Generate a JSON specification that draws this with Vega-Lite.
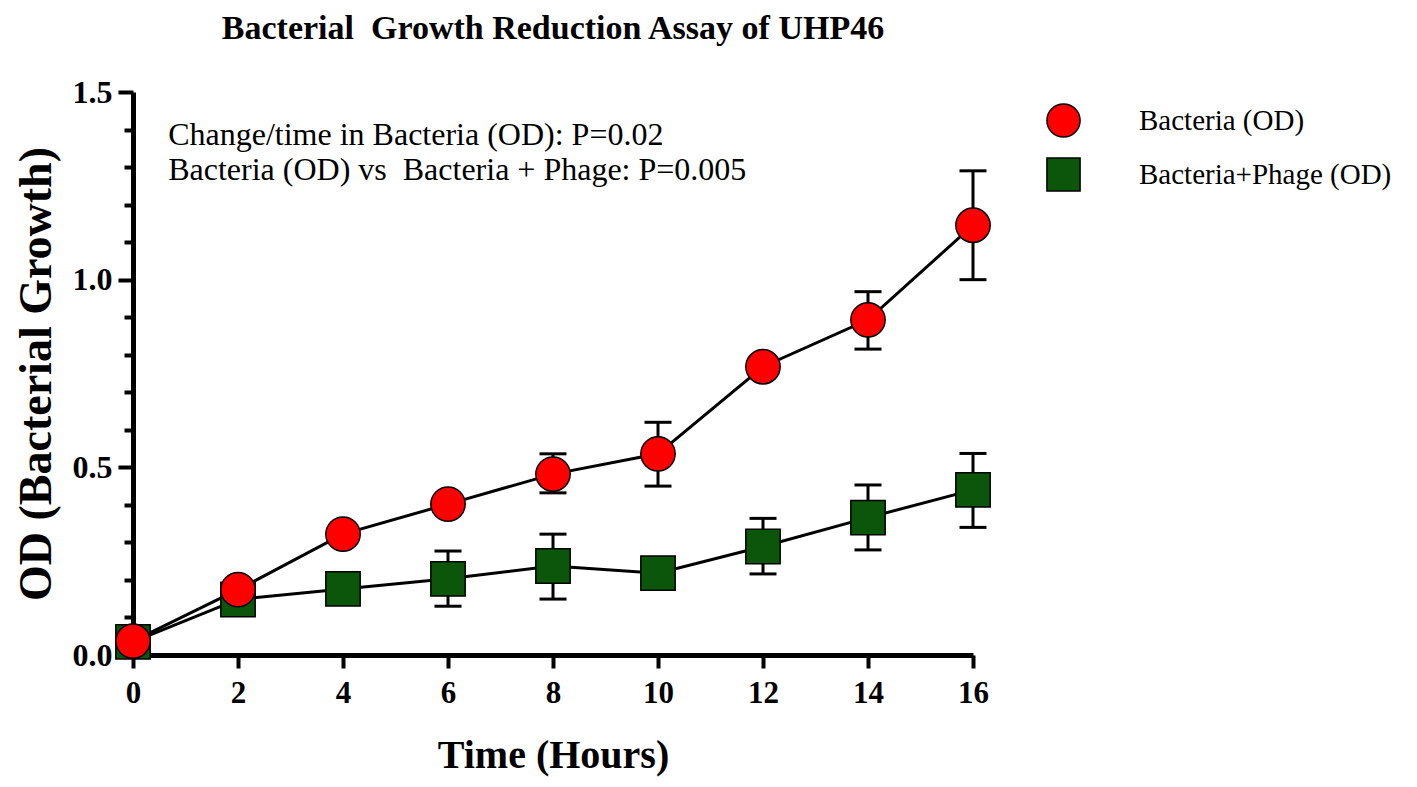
{
  "$schema": "https://vega.github.io/schema/vega-lite/v6.json",
  "width": 840,
  "height": 563,
  "autosize": "none",
  "padding": {"left": 133, "top": 92, "right": 444, "bottom": 132},
  "background": "white",
  "config": {
    "font": "Liberation Serif",
    "view": {"stroke": null}
  },
  "title": {
    "text": "Bacterial\u00a0 Growth Reduction Assay of UHP46",
    "font": "Liberation Serif",
    "fontSize": 34,
    "fontWeight": "bold",
    "anchor": "middle",
    "offset": 30
  },
  "data": {
    "values": [
      {"series": "Bacteria+Phage (OD)", "time": 0, "od": 0.035, "lo": null, "hi": null},
      {"series": "Bacteria+Phage (OD)", "time": 2, "od": 0.148, "lo": 0.11, "hi": 0.186},
      {"series": "Bacteria+Phage (OD)", "time": 4, "od": 0.176, "lo": null, "hi": null},
      {"series": "Bacteria+Phage (OD)", "time": 6, "od": 0.203, "lo": 0.13, "hi": 0.277},
      {"series": "Bacteria+Phage (OD)", "time": 8, "od": 0.237, "lo": 0.149, "hi": 0.322},
      {"series": "Bacteria+Phage (OD)", "time": 10, "od": 0.218, "lo": null, "hi": null},
      {"series": "Bacteria+Phage (OD)", "time": 12, "od": 0.289, "lo": 0.216, "hi": 0.364},
      {"series": "Bacteria+Phage (OD)", "time": 14, "od": 0.366, "lo": 0.28, "hi": 0.453},
      {"series": "Bacteria+Phage (OD)", "time": 16, "od": 0.44, "lo": 0.34, "hi": 0.537},
      {"series": "Bacteria (OD)", "time": 0, "od": 0.037, "lo": null, "hi": null},
      {"series": "Bacteria (OD)", "time": 2, "od": 0.174, "lo": null, "hi": null},
      {"series": "Bacteria (OD)", "time": 4, "od": 0.322, "lo": null, "hi": null},
      {"series": "Bacteria (OD)", "time": 6, "od": 0.402, "lo": null, "hi": null},
      {"series": "Bacteria (OD)", "time": 8, "od": 0.482, "lo": 0.432, "hi": 0.536},
      {"series": "Bacteria (OD)", "time": 10, "od": 0.536, "lo": 0.45, "hi": 0.62},
      {"series": "Bacteria (OD)", "time": 12, "od": 0.768, "lo": null, "hi": null},
      {"series": "Bacteria (OD)", "time": 14, "od": 0.893, "lo": 0.815, "hi": 0.968},
      {"series": "Bacteria (OD)", "time": 16, "od": 1.145, "lo": 1.0, "hi": 1.29}
    ]
  },
  "encoding": {
    "x": {
      "field": "time",
      "type": "quantitative",
      "scale": {"domain": [0, 16], "nice": false, "zero": false},
      "axis": {
        "title": "Time (Hours)",
        "values": [0, 2, 4, 6, 8, 10, 12, 14, 16],
        "grid": false,
        "domainColor": "black",
        "domainWidth": 5,
        "tickColor": "black",
        "tickWidth": 4,
        "tickSize": 13,
        "labelFlush": false,
        "labelFont": "Liberation Serif",
        "labelFontWeight": "bold",
        "labelFontSize": 31,
        "labelColor": "black",
        "labelPadding": 10,
        "titleFont": "Liberation Serif",
        "titleFontWeight": "bold",
        "titleFontSize": 40,
        "titleColor": "black",
        "titlePadding": 27
      }
    },
    "y": {
      "field": "od",
      "type": "quantitative",
      "scale": {"domain": [0, 1.5], "nice": false},
      "axis": {
        "title": "OD (Bacterial Growth)",
        "values": [0, 0.1, 0.2, 0.3, 0.4, 0.5, 0.6, 0.7, 0.8, 0.9, 1.0, 1.1, 1.2, 1.3, 1.4, 1.5],
        "labelExpr": "abs(datum.value * 2 - round(datum.value * 2)) < 0.01 ? format(datum.value, '.1f') : ''",
        "grid": false,
        "domainColor": "black",
        "domainWidth": 5,
        "tickColor": "black",
        "tickWidth": 4,
        "tickSize": {"condition": {"test": "abs(datum.value * 2 - round(datum.value * 2)) < 0.01", "value": 15}, "value": 9},
        "labelFlush": false,
        "labelFont": "Liberation Serif",
        "labelFontWeight": "bold",
        "labelFontSize": 32,
        "labelColor": "black",
        "labelPadding": 6,
        "titleFont": "Liberation Serif",
        "titleFontWeight": "bold",
        "titleFontSize": 46,
        "titleColor": "black",
        "titlePadding": 12
      }
    }
  },
  "layer": [
    {
      "transform": [{"filter": "isValid(datum.lo)"}],
      "mark": {"type": "rule", "color": "black", "strokeWidth": 3, "opacity": 1},
      "encoding": {"y": {"field": "lo", "type": "quantitative"}, "y2": {"field": "hi"}}
    },
    {
      "transform": [{"filter": "isValid(datum.lo)"}],
      "mark": {"type": "tick", "orient": "horizontal", "color": "black", "opacity": 1, "size": 27, "thickness": 3},
      "encoding": {"y": {"field": "lo", "type": "quantitative"}}
    },
    {
      "transform": [{"filter": "isValid(datum.hi)"}],
      "mark": {"type": "tick", "orient": "horizontal", "color": "black", "opacity": 1, "size": 27, "thickness": 3},
      "encoding": {"y": {"field": "hi", "type": "quantitative"}}
    },
    {
      "mark": {"type": "line", "color": "black", "strokeWidth": 3, "clip": false},
      "encoding": {"detail": {"field": "series"}}
    },
    {
      "mark": {"type": "point", "filled": true, "opacity": 1, "size": 1180, "stroke": "black", "strokeWidth": 1.5, "clip": false},
      "encoding": {
        "color": {
          "field": "series",
          "type": "nominal",
          "scale": {"domain": ["Bacteria (OD)", "Bacteria+Phage (OD)"], "range": ["#ff0000", "#0b560b"]},
          "legend": {
            "title": null,
            "orient": "none",
            "legendX": 913,
            "legendY": 11,
            "symbolSize": 1100,
            "symbolStrokeColor": "black",
            "symbolStrokeWidth": 1.5,
            "symbolOpacity": 1,
            "labelFont": "Liberation Serif",
            "labelFontSize": 29,
            "labelColor": "black",
            "labelLimit": 0,
            "labelOffset": 58,
            "rowPadding": 13
          }
        },
        "shape": {
          "field": "series",
          "type": "nominal",
          "scale": {"domain": ["Bacteria (OD)", "Bacteria+Phage (OD)"], "range": ["circle", "square"]},
          "legend": null
        }
      }
    },
    {
      "transform": [{"filter": "datum.time == 0 && datum.series == 'Bacteria (OD)'"}],
      "mark": {"type": "text", "align": "left", "baseline": "alphabetic", "font": "Liberation Serif", "fontSize": 32, "color": "black", "lineHeight": 35},
      "encoding": {
        "x": {"datum": 0.67},
        "y": {"datum": 1.36},
        "text": {"value": ["Change/time in Bacteria (OD): P=0.02", "Bacteria (OD) vs\u00a0 Bacteria + Phage: P=0.005"]}
      }
    }
  ]
}
